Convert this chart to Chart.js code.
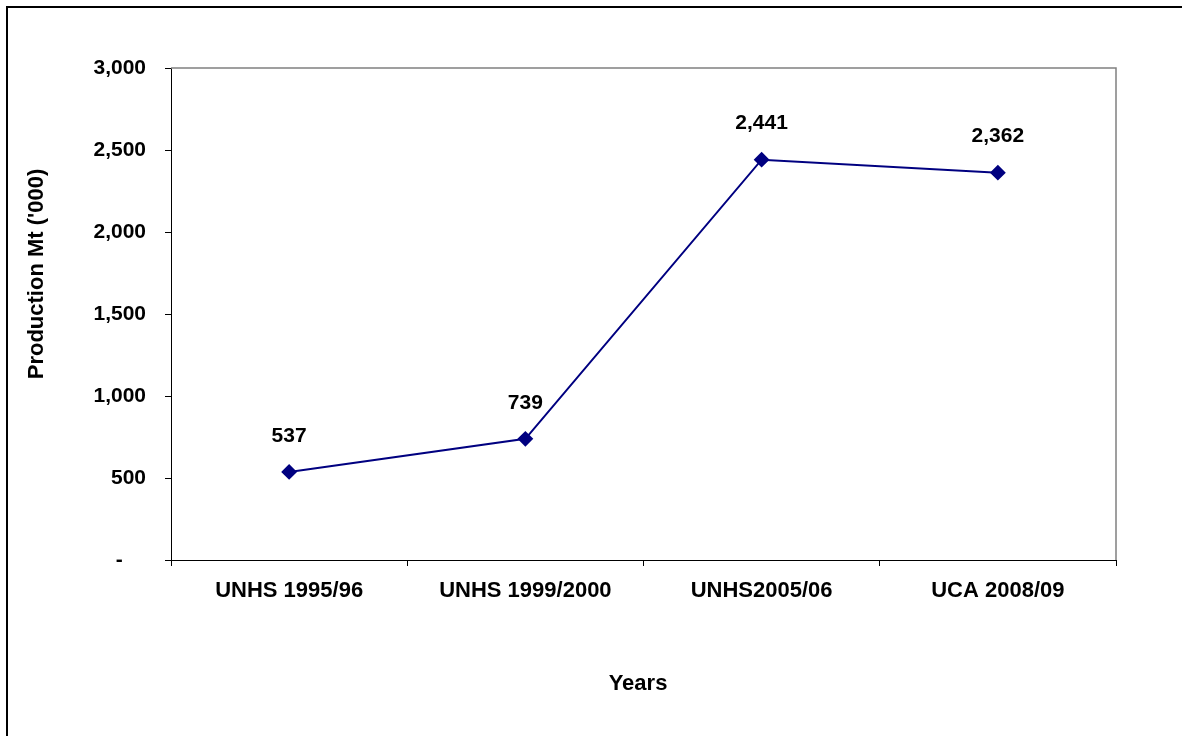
<!DOCTYPE html>
<html>
<head>
<meta charset="utf-8">
<script src="https://cdn.jsdelivr.net/npm/chart.js@4.4.1/dist/chart.umd.min.js"></script>
<style>
  html, body { margin: 0; padding: 0; background: #fff; }
  #wrap { width: 1182px; height: 736px; }
</style>
</head>
<body>
<div id="wrap"><canvas id="productionChart" width="1182" height="736"></canvas></div>
<script>
const categories = ['UNHS 1995/96', 'UNHS 1999/2000', 'UNHS2005/06', 'UCA 2008/09'];
const production = [537, 739, 2441, 2362];
const yTicks = [0, 500, 1000, 1500, 2000, 2500, 3000];
const yTitle = "Production Mt ('000)";
const xTitle = 'Years';

const FONT = 'Arial, "Liberation Sans", sans-serif';

function fmt(v) {
    return v.toLocaleString('en-US');
}

// frame, plot border, titles, point labels
const extras = {
    id: 'extras',
    beforeDatasetsDraw(chart) {
        const ctx = chart.ctx;
        const a = chart.chartArea;
        ctx.save();
        ctx.strokeStyle = '#808080';
        ctx.lineWidth = 1.5;
        ctx.beginPath();
        ctx.moveTo(a.left, a.top);
        ctx.lineTo(a.right, a.top);
        ctx.lineTo(a.right, a.bottom);
        ctx.stroke();
        ctx.restore();
    },
    afterDraw(chart) {
        const ctx = chart.ctx;
        ctx.save();
        // outer frame (runs off the right and bottom)
        ctx.strokeStyle = '#000';
        ctx.lineWidth = 2;
        ctx.beginPath();
        ctx.moveTo(7, chart.height + 5);
        ctx.lineTo(7, 7);
        ctx.lineTo(chart.width + 5, 7);
        ctx.stroke();

        // point labels
        ctx.fillStyle = '#000';
        ctx.font = 'bold 21px ' + FONT;
        ctx.textAlign = 'center';
        ctx.textBaseline = 'middle';
        const meta = chart.getDatasetMeta(0);
        meta.data.forEach((pt, i) => {
            ctx.fillText(fmt(production[i]), pt.x, pt.y - 36);
        });

        // axis titles
        ctx.font = 'bold 22px ' + FONT;
        ctx.fillText(xTitle, 638, 684);
        ctx.translate(37, 274);
        ctx.rotate(-Math.PI / 2);
        ctx.fillText(yTitle, 0, 0);
        ctx.restore();
    }
};

new Chart(document.getElementById('productionChart'), {
    type: 'line',
    data: {
        labels: categories,
        datasets: [{
            data: production,
            borderColor: '#000080',
            backgroundColor: '#000080',
            borderWidth: 2,
            pointStyle: 'rectRot',
            pointRadius: 6.5,
            pointHoverRadius: 6.5,
            tension: 0
        }]
    },
    options: {
        responsive: false,
        animation: false,
        layout: {
            padding: { top: 68, right: 66, bottom: 0, left: 0 }
        },
        plugins: {
            legend: { display: false },
            tooltip: { enabled: false }
        },
        scales: {
            x: {
                offset: true,
                afterFit(scale) { scale.height = 176; },
                grid: {
                    offset: true,
                    drawOnChartArea: false,
                    drawTicks: true,
                    tickLength: 6,
                    color: '#000'
                },
                border: { color: '#000', width: 1 },
                ticks: {
                    color: '#000',
                    padding: 12,
                    maxRotation: 0,
                    font: { family: FONT, size: 22, weight: 'bold' }
                }
            },
            y: {
                min: 0,
                max: 3000,
                afterFit(scale) { scale.width = 171; },
                afterBuildTicks(scale) {
                    scale.ticks = yTicks.map(v => ({ value: v }));
                },
                grid: {
                    drawOnChartArea: false,
                    drawTicks: true,
                    tickLength: 6,
                    color: '#000'
                },
                border: { color: '#000', width: 1 },
                ticks: {
                    color: '#000',
                    padding: 19,
                    font: { family: FONT, size: 21, weight: 'bold' },
                    callback: v => v === 0 ? '-    ' : fmt(v)
                }
            }
        }
    },
    plugins: [extras]
});
</script>
</body>
</html>
